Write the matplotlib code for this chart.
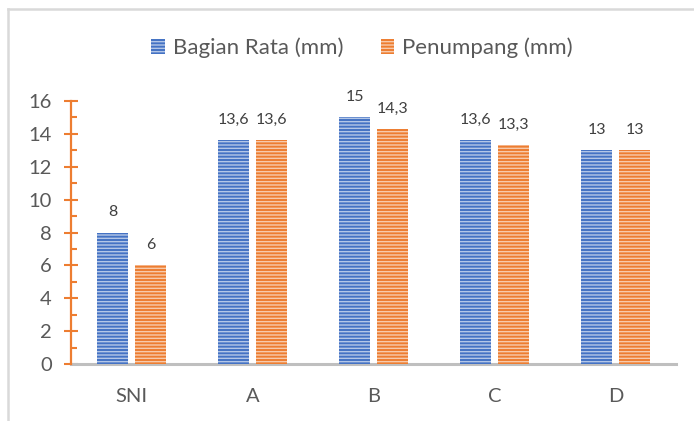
import matplotlib
matplotlib.use("Agg")
import matplotlib.pyplot as plt
from matplotlib.lines import Line2D
from matplotlib.ticker import MultipleLocator
import numpy as np

categories = ["SNI", "A", "B", "C", "D"]
bagian_rata = [8, 13.6, 15, 13.6, 13]
penumpang = [6, 13.6, 14.3, 13.3, 13]
series_names = ["Bagian Rata (mm)", "Penumpang (mm)"]

plt.rcParams['font.family'] = ['Lato', 'DejaVu Sans']
plt.rcParams['hatch.color'] = (1, 1, 1, 0.6)
plt.rcParams['hatch.linewidth'] = 1.0

BLUE = "#4472C4"
ORANGE = "#ED7D31"
TXT = "#595959"

fig = plt.figure(figsize=(6.94, 4.21), dpi=100)
ax = fig.add_axes([71/694, 57/421, (676-71)/694, (364-101)/421])

x = np.arange(len(categories))
w = 0.25
off = 0.157
b1 = ax.bar(x - off, bagian_rata, w, color=BLUE, hatch='-----', label=series_names[0], zorder=3)
b2 = ax.bar(x + off, penumpang, w, color=ORANGE, hatch='-----', label=series_names[1], zorder=3)

def fmt(v):
    return ("%g" % v).replace('.', ',')

for bars, vals in ((b1, bagian_rata), (b2, penumpang)):
    for r, v in zip(bars, vals):
        ax.annotate(fmt(v), (r.get_x() + r.get_width()/2, v), xytext=(0, 9.5),
                    textcoords='offset points', ha='center', va='bottom',
                    fontsize=11.5, color="#404040")

ax.set_xlim(-0.5, len(categories) - 0.5)
ax.set_ylim(0, 16)
ax.set_xticks(x)
ax.set_xticklabels(categories)
ax.yaxis.set_major_locator(MultipleLocator(2))
ax.yaxis.set_minor_locator(MultipleLocator(1))

for s in ('top', 'right'):
    ax.spines[s].set_visible(False)
ax.spines['left'].set_color(ORANGE)
ax.spines['left'].set_linewidth(1.6)
ax.spines['bottom'].set_color("#BFBFBF")
ax.spines['bottom'].set_linewidth(2.2)
ax.spines['bottom'].set_zorder(2)

ax.tick_params(axis='y', which='major', direction='inout', length=9.5, width=1.5,
               color=ORANGE, labelsize=14.5, labelcolor=TXT, pad=9)
ax.tick_params(axis='y', which='minor', direction='in', length=4.5, width=1.5, color=ORANGE)
ax.tick_params(axis='x', length=0, labelsize=14.5, labelcolor=TXT, pad=17)

leg = fig.legend(handles=[b1, b2], loc='center', bbox_to_anchor=(362/694, 1 - 48/421),
                 ncol=2, frameon=False, fontsize=16, labelcolor=TXT,
                 handlelength=0.6, handleheight=0.6, handletextpad=0.36, columnspacing=1.7)

# chart frame (top and left edges)
fig.add_artist(Line2D([8/694, 1], [1 - 9/421, 1 - 9/421], transform=fig.transFigure,
                      color="#D9D9D9", lw=1.8))
fig.add_artist(Line2D([8/694, 8/694], [0, 1 - 9/421], transform=fig.transFigure,
                      color="#D9D9D9", lw=1.8))

fig.savefig("out.png", dpi=100)
